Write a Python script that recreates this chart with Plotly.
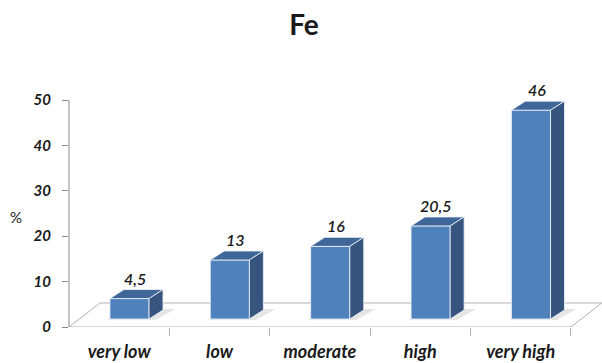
import plotly.graph_objects as go

# Iron (Fe) content classes and their shares in percent
categories = ["very low", "low", "moderate", "high", "very high"]
values = [4.5, 13, 16, 20.5, 46]
value_labels = ["4,5", "13", "16", "20,5", "46"]
y_ticks = [0, 10, 20, 30, 40, 50]

# 3-D styling (in axis units)
FLOOR_DX, FLOOR_DY = 0.308, 5.29      # oblique depth of the floor
BAR_FRONT = 0.333                     # fraction of floor depth where bar fronts sit
BAR_DX, BAR_DY = 0.139, 1.98          # depth of each bar
HALF_W = 0.195

FRONT = "#4F81BD"
TOP = "#3F6698"
SIDE = "#36547E"
EDGE = "rgba(235,242,250,0.85)"
GRID = "#B0B0B0"
TEXT = "#1A1A1A"

off_x = BAR_FRONT * FLOOR_DX
base_y = BAR_FRONT * FLOOR_DY

fig = go.Figure()

# front faces
fig.add_trace(go.Bar(
    x=[i + off_x for i in range(len(values))],
    y=values,
    base=base_y,
    width=2 * HALF_W,
    marker=dict(color=FRONT, line=dict(color=EDGE, width=1)),
    hoverinfo="skip",
    showlegend=False,
))

shapes = []
# floor
fx0, fx1 = -0.5, len(values) - 0.5
shapes.append(dict(
    type="path", xref="x", yref="y", layer="below",
    path=f"M {fx0},0 L {fx1},0 L {fx1 + FLOOR_DX},{FLOOR_DY} L {fx0 + FLOOR_DX},{FLOOR_DY} Z",
    line=dict(color=GRID, width=1), fillcolor="white",
))
# y axis line
shapes.append(dict(type="line", xref="paper", yref="y", x0=0, x1=0, y0=0, y1=max(y_ticks),
                   line=dict(color="#8C8C8C", width=1)))

for i, v in enumerate(values):
    x0 = i - HALF_W + off_x
    x1 = i + HALF_W + off_x
    yb = base_y
    yt = base_y + v
    # soft shadow on the floor
    shapes.append(dict(
        type="path", xref="x", yref="y", layer="below",
        path=(f"M {x0 - 0.03},{yb - 0.3} L {x1 + 0.06},{yb - 0.3} "
              f"L {x1 + BAR_DX + 0.12},{yb + BAR_DY + 0.2} L {x0 + BAR_DX},{yb + BAR_DY + 0.2} Z"),
        line=dict(width=0), fillcolor="rgba(0,0,0,0.10)",
    ))
    # top face
    fig.add_trace(go.Scatter(
        x=[x0, x1, x1 + BAR_DX, x0 + BAR_DX, x0],
        y=[yt, yt, yt + BAR_DY, yt + BAR_DY, yt],
        mode="lines", fill="toself", fillcolor=TOP,
        line=dict(color=EDGE, width=1), hoverinfo="skip", showlegend=False,
    ))
    # side face
    fig.add_trace(go.Scatter(
        x=[x1, x1 + BAR_DX, x1 + BAR_DX, x1, x1],
        y=[yb, yb + BAR_DY, yt + BAR_DY, yt, yb],
        mode="lines", fill="toself", fillcolor=SIDE,
        line=dict(color=EDGE, width=1), hoverinfo="skip", showlegend=False,
    ))

annotations = []
for i, (v, lab) in enumerate(zip(values, value_labels)):
    annotations.append(dict(
        x=i + off_x + BAR_DX * 0.4, y=base_y + v + BAR_DY, xref="x", yref="y",
        text=lab, showarrow=False, yanchor="bottom", yshift=0,
        font=dict(family="Lato", size=16, color=TEXT, style="italic", weight=600),
    ))
# "%" axis label, left of the value axis
annotations.append(dict(
    x=-53 / 533, y=110 / 267, xref="paper", yref="paper", text="%", showarrow=False,
    xanchor="center", yanchor="middle",
    font=dict(family="Lato", size=15, color=TEXT),
))

fig.update_layout(
    width=602, height=363,
    margin=dict(l=69, r=0, t=60, b=36),
    paper_bgcolor="white", plot_bgcolor="white",
    title=dict(text="<b>Fe</b>", x=0.505, xanchor="center", y=0.93, yanchor="middle",
               font=dict(family="Lato", size=28, color=TEXT)),
    shapes=shapes,
    annotations=annotations,
    xaxis=dict(
        range=[-0.5, len(values) - 0.5 + 0.31],
        tickmode="array", tickvals=list(range(len(categories))), ticktext=categories,
        ticks="", showgrid=False, zeroline=False, showline=False,
        ticklabelstandoff=12,
        tickfont=dict(family="Lato", size=18, color=TEXT, style="italic", weight="bold"),
        minor=dict(ticks="outside", ticklen=8, tickcolor=GRID, tickwidth=1,
                   tickmode="array", tickvals=[k - 0.5 for k in range(1, len(categories) + 1)],
                   showgrid=False),
        fixedrange=True,
    ),
    yaxis=dict(
        range=[0, 50 * 267 / 227],
        tickmode="array", tickvals=y_ticks,
        ticks="outside", ticklen=6, tickcolor="#8C8C8C",
        showgrid=False, zeroline=False, showline=False,
        ticklabelstandoff=8,
        tickfont=dict(family="Lato", size=15, color=TEXT, style="italic", weight="bold"),
        fixedrange=True,
    ),
)

fig.write_html("out.html")
